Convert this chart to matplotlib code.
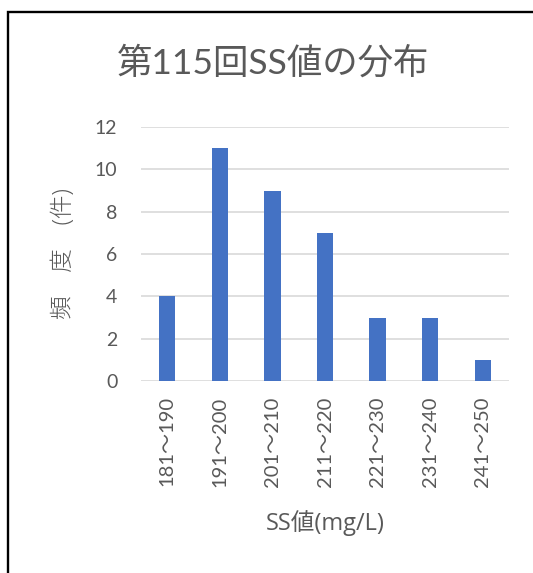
import matplotlib
matplotlib.use("Agg")
import matplotlib.pyplot as plt
from matplotlib.patches import Rectangle

categories = ["181～190", "191～200", "201～210", "211～220", "221～230", "231～240", "241～250"]
counts = [4, 11, 9, 7, 3, 3, 1]
yticks = [0, 2, 4, 6, 8, 10, 12]
title = "第115回SS値の分布"
xlabel = "SS値(mg/L)"
ylabel = "頻　度　(件)"

FAM = ["Lato", "Noto Sans CJK JP", "DejaVu Sans"]
FAM2 = ["Open Sans", "Noto Sans CJK JP", "DejaVu Sans"]
plt.rcParams["font.family"] = FAM
TXT = "#595959"

W, H = 533, 573
fig = plt.figure(figsize=(W / 100, H / 100), dpi=100)
fig.patch.set_facecolor("white")

# outer chart frame (extends beyond the right and bottom edges)
fig.patches.append(Rectangle((8 / W, -0.1), 1.2, 1 - 11.5 / H + 0.1,
                             transform=fig.transFigure, fill=False,
                             edgecolor="black", linewidth=1.7))

ax = fig.add_axes([141 / W, 1 - 381 / H, (509 - 141) / W, (381 - 127) / H])
x = list(range(len(categories)))
ax.bar(x, counts, width=0.31, color="#4472C4", zorder=3)
ax.set_xlim(-0.5, len(categories) - 0.5)
ax.set_ylim(0, 12)
ax.set_yticks(yticks)
ax.set_xticks(x)
ax.set_xticklabels(categories, rotation=90, fontsize=14.5, color=TXT)
ax.tick_params(axis="y", length=0, pad=17, labelsize=14, labelcolor=TXT)
ax.tick_params(axis="x", length=0, pad=11)
for s in ax.spines.values():
    s.set_visible(False)
ax.yaxis.grid(True, color="#d9d9d9", linewidth=1.2, zorder=0)
ax.set_axisbelow(True)

fig.text(273 / W, 1 - 63 / H, title, ha="center", va="center",
         fontsize=25.5, color=TXT)
fig.text(325 / W, 1 - 523 / H, xlabel, ha="center", va="center",
         fontsize=17, color=TXT, family=FAM2)
fig.text(64 / W, 1 - 254 / H, ylabel, ha="center", va="center",
         rotation=90, fontsize=17, color=TXT, family=FAM2, fontweight="light")

fig.savefig("out.png", dpi=100, facecolor="white")
